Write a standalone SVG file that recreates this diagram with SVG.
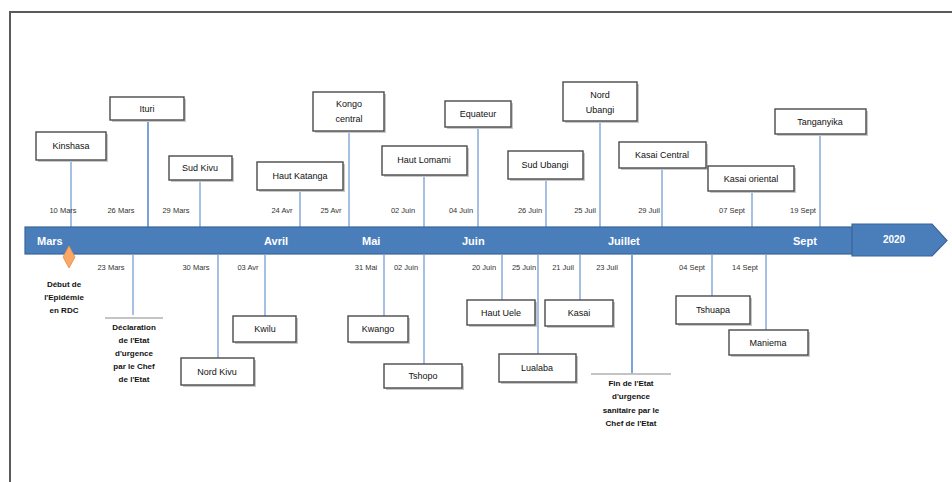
<svg xmlns="http://www.w3.org/2000/svg" width="952" height="482" viewBox="0 0 952 482">
<style>
.frame{fill:none;stroke:#5a5a5a;stroke-width:2}
.bar{fill:#4a7ebb;stroke:#3a659a;stroke-width:1.2}
.mon{font-family:"Liberation Sans",Arial,sans-serif;font-size:11px;font-weight:bold;fill:#ffffff}
.yr{font-family:"Liberation Sans",Arial,sans-serif;font-size:10px;font-weight:bold;fill:#ffffff}
.ln{stroke:#a6c0e4;stroke-width:2;fill:none}
.ln2{stroke:#7aa3d9;stroke-width:2;fill:none}
.rule{stroke:#8a8a8a;stroke-width:1.2}
.box{fill:#ffffff;stroke:#4a4a4a;stroke-width:1.4}
.sh{fill:#c8c8c8}
.lbl{font-family:"Liberation Sans",Arial,sans-serif;font-size:9px;fill:#111111;text-anchor:middle}
.dt{font-family:"Liberation Sans",Arial,sans-serif;font-size:7.5px;fill:#333333;text-anchor:middle}
.note{font-family:"Liberation Sans",Arial,sans-serif;font-size:8px;font-weight:bold;fill:#111111;text-anchor:middle}
</style>
<rect width="952" height="482" fill="#ffffff"/>
<path class="frame" d="M952 12 H10 V482"/>

<g id="connectors">
<line class="ln" x1="71" y1="160" x2="71" y2="227"/>
<line class="ln2" x1="148" y1="120" x2="148" y2="227"/>
<line class="ln" x1="200" y1="180" x2="200" y2="227"/>
<line class="ln" x1="300" y1="190" x2="300" y2="227"/>
<line class="ln" x1="349" y1="131" x2="349" y2="227"/>
<line class="ln" x1="424" y1="175" x2="424" y2="227"/>
<line class="ln" x1="478" y1="127" x2="478" y2="227"/>
<line class="ln" x1="546" y1="179" x2="546" y2="227"/>
<line class="ln" x1="600" y1="121" x2="600" y2="227"/>
<line class="ln" x1="662" y1="168" x2="662" y2="227"/>
<line class="ln" x1="752" y1="191" x2="752" y2="227"/>
<line class="ln" x1="820" y1="134" x2="820" y2="227"/>
<line class="ln" x1="133" y1="255" x2="133" y2="315"/>
<line class="ln" x1="218" y1="255" x2="218" y2="358"/>
<line class="ln" x1="265" y1="255" x2="265" y2="316"/>
<line class="ln" x1="384" y1="255" x2="384" y2="316"/>
<line class="ln" x1="424" y1="255" x2="424" y2="364"/>
<line class="ln" x1="502" y1="255" x2="502" y2="300"/>
<line class="ln" x1="538" y1="255" x2="538" y2="354"/>
<line class="ln" x1="580" y1="255" x2="580" y2="300"/>
<line class="ln2" x1="632" y1="255" x2="632" y2="373"/>
<line class="ln" x1="712" y1="255" x2="712" y2="296"/>
<line class="ln" x1="766" y1="255" x2="766" y2="330"/>
<line class="rule" x1="105" y1="318" x2="163" y2="318"/>
<line class="rule" x1="591" y1="374" x2="671" y2="374"/>
</g>

<g id="timeline">
<rect class="bar" x="25" y="227" width="828" height="27"/>
<path class="bar" d="M852 224 H932 L947 240.5 L932 256 H852 Z"/>
<text class="mon" x="37" y="245">Mars</text>
<text class="mon" x="264" y="245">Avril</text>
<text class="mon" x="362" y="245">Mai</text>
<text class="mon" x="462" y="245">Juin</text>
<text class="mon" x="608" y="245">Juillet</text>
<text class="mon" x="793" y="245">Sept</text>
<text class="yr" x="894" y="243" text-anchor="middle">2020</text>
</g>

<g id="dates-upper">
<text class="dt" x="63" y="213">10 Mars</text>
<text class="dt" x="121" y="213">26 Mars</text>
<text class="dt" x="176" y="213">29 Mars</text>
<text class="dt" x="282" y="213">24 Avr</text>
<text class="dt" x="331" y="213">25 Avr</text>
<text class="dt" x="403" y="213">02 Juin</text>
<text class="dt" x="461" y="213">04 Juin</text>
<text class="dt" x="530" y="213">26 Juin</text>
<text class="dt" x="585" y="213">25 Juil</text>
<text class="dt" x="649" y="213">29 Juil</text>
<text class="dt" x="732" y="213">07 Sept</text>
<text class="dt" x="803" y="213">19 Sept</text>
</g>
<g id="dates-lower">
<text class="dt" x="111" y="270">23 Mars</text>
<text class="dt" x="196" y="270">30 Mars</text>
<text class="dt" x="248" y="270">03 Avr</text>
<text class="dt" x="366" y="270">31 Mai</text>
<text class="dt" x="406" y="270">02 Juin</text>
<text class="dt" x="484" y="270">20 Juin</text>
<text class="dt" x="524" y="270">25 Juin</text>
<text class="dt" x="563" y="270">21 Juil</text>
<text class="dt" x="607" y="270">23 Juil</text>
<text class="dt" x="692" y="270">04 Sept</text>
<text class="dt" x="745" y="270">14 Sept</text>
</g>

<g id="debut">
<path d="M69 246 L75 257 L69 268 L63 257 Z" fill="#f9a869" stroke="#f08a3c" stroke-width="0.8"/>
<text class="note" x="64" y="287">Début de</text>
<text class="note" x="64" y="300">l'Epidémie</text>
<text class="note" x="64" y="313">en RDC</text>
</g>
<g id="declaration">
<text class="note" x="134" y="330">Déclaration</text>
<text class="note" x="134" y="343">de l'Etat</text>
<text class="note" x="134" y="356">d'urgence</text>
<text class="note" x="134" y="369">par le Chef</text>
<text class="note" x="134" y="382">de l'Etat</text>
</g>
<g id="fin">
<text class="note" x="631" y="386">Fin de l'Etat</text>
<text class="note" x="631" y="399">d'urgence</text>
<text class="note" x="631" y="413">sanitaire par le</text>
<text class="note" x="631" y="426">Chef de l'Etat</text>
</g>

<g id="kinshasa"><rect class="sh" x="38" y="134" width="70" height="28"/><rect class="box" x="36" y="132" width="70" height="28"/><text class="lbl" x="71" y="149">Kinshasa</text></g>
<g id="ituri"><rect class="sh" x="112" y="99" width="74" height="23"/><rect class="box" x="110" y="97" width="74" height="23"/><text class="lbl" x="147" y="112">Ituri</text></g>
<g id="sud-kivu"><rect class="sh" x="171" y="158" width="63" height="24"/><rect class="box" x="169" y="156" width="63" height="24"/><text class="lbl" x="200" y="171">Sud Kivu</text></g>
<g id="haut-katanga"><rect class="sh" x="259" y="164" width="86" height="28"/><rect class="box" x="257" y="162" width="86" height="28"/><text class="lbl" x="300" y="179">Haut Katanga</text></g>
<g id="kongo-central"><rect class="sh" x="315" y="94" width="71" height="39"/><rect class="box" x="313" y="92" width="71" height="39"/><text class="lbl" x="349" y="107">Kongo</text><text class="lbl" x="349" y="122">central</text></g>
<g id="haut-lomami"><rect class="sh" x="384" y="148" width="85" height="29"/><rect class="box" x="382" y="146" width="85" height="29"/><text class="lbl" x="424" y="163">Haut Lomami</text></g>
<g id="equateur"><rect class="sh" x="447" y="103" width="66" height="26"/><rect class="box" x="445" y="101" width="66" height="26"/><text class="lbl" x="478" y="117">Equateur</text></g>
<g id="sud-ubangi"><rect class="sh" x="510" y="153" width="75" height="28"/><rect class="box" x="508" y="151" width="75" height="28"/><text class="lbl" x="545" y="168">Sud Ubangi</text></g>
<g id="nord-ubangi"><rect class="sh" x="565" y="84" width="74" height="39"/><rect class="box" x="563" y="82" width="74" height="39"/><text class="lbl" x="600" y="98">Nord</text><text class="lbl" x="600" y="113">Ubangi</text></g>
<g id="kasai-central"><rect class="sh" x="621" y="144" width="87" height="26"/><rect class="box" x="619" y="142" width="87" height="26"/><text class="lbl" x="662" y="158">Kasai Central</text></g>
<g id="kasai-oriental"><rect class="sh" x="710" y="168" width="86" height="25"/><rect class="box" x="708" y="166" width="86" height="25"/><text class="lbl" x="751" y="182">Kasai oriental</text></g>
<g id="tanganyika"><rect class="sh" x="777" y="111" width="91" height="25"/><rect class="box" x="775" y="109" width="91" height="25"/><text class="lbl" x="820" y="125">Tanganyika</text></g>

<g id="nord-kivu"><rect class="sh" x="183" y="360" width="73" height="27"/><rect class="box" x="181" y="358" width="73" height="27"/><text class="lbl" x="217" y="375">Nord Kivu</text></g>
<g id="kwilu"><rect class="sh" x="235" y="318" width="63" height="26"/><rect class="box" x="233" y="316" width="63" height="26"/><text class="lbl" x="265" y="332">Kwilu</text></g>
<g id="kwango"><rect class="sh" x="350" y="318" width="60" height="26"/><rect class="box" x="348" y="316" width="60" height="26"/><text class="lbl" x="378" y="332">Kwango</text></g>
<g id="tshopo"><rect class="sh" x="386" y="366" width="78" height="24"/><rect class="box" x="384" y="364" width="78" height="24"/><text class="lbl" x="423" y="379">Tshopo</text></g>
<g id="haut-uele"><rect class="sh" x="469" y="302" width="68" height="25"/><rect class="box" x="467" y="300" width="68" height="25"/><text class="lbl" x="501" y="316">Haut Uele</text></g>
<g id="lualaba"><rect class="sh" x="501" y="356" width="77" height="28"/><rect class="box" x="499" y="354" width="77" height="28"/><text class="lbl" x="537" y="371">Lualaba</text></g>
<g id="kasai"><rect class="sh" x="547" y="302" width="68" height="26"/><rect class="box" x="545" y="300" width="68" height="26"/><text class="lbl" x="579" y="316">Kasai</text></g>
<g id="tshuapa"><rect class="sh" x="678" y="298" width="74" height="28"/><rect class="box" x="676" y="296" width="74" height="28"/><text class="lbl" x="713" y="313">Tshuapa</text></g>
<g id="maniema"><rect class="sh" x="731" y="332" width="79" height="25"/><rect class="box" x="729" y="330" width="79" height="25"/><text class="lbl" x="768" y="346">Maniema</text></g>
</svg>
